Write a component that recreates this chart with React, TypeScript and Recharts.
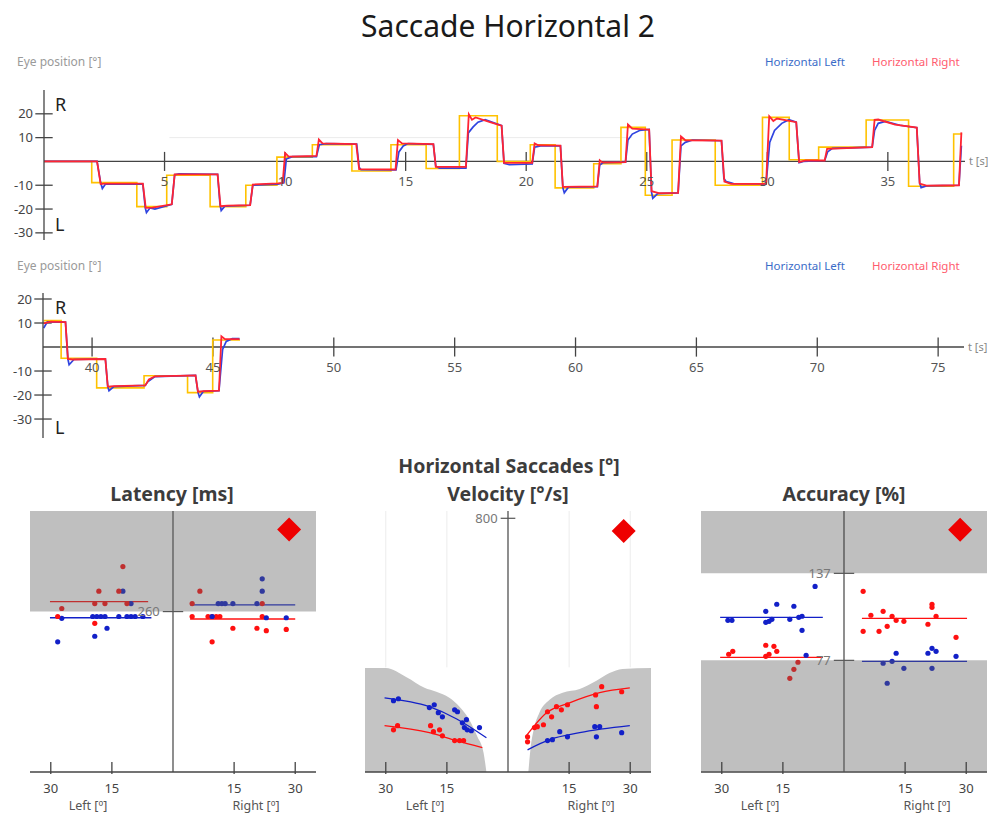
import React from 'react';
import { ComposedChart, Line, XAxis, YAxis, ReferenceLine, ReferenceArea, Scatter, Area } from 'recharts';

type P = [number, number];
const pts = (a: P[]) => a.map(([x, y]) => ({ x, y }));

// ---------- Eye position traces (t [s], position [°]) ----------
const targetTop: P[] = [[0,0],[1.98,-8.9],[3.85,-19],[5.09,-5.8],[6.89,-19],[8.37,-10],[9.66,1.8],[11.13,7],[12.77,-4],[14.39,7],[15.85,-3],[17.23,19.2],[18.8,0],[20.17,7],[21.2,-11.1],[22.8,-1],[23.93,14.3],[24.94,-14.2],[26.05,9],[27.84,-10],[29.8,18.5],[30.91,0.7],[32.13,6],[34.1,17.4],[35.86,-10.4],[37.73,11.5],[38.08,11.5]];
const redTop: P[] = [[0,0],[2.2,0],[2.35,-9.5],[2.5,-9.3],[4.1,-9.3],[4.22,-19.5],[4.5,-19.4],[5.3,-18],[5.42,-5.4],[7.2,-5.4],[7.32,-18.8],[7.6,-18.6],[8.55,-18.4],[8.66,-9.7],[9.7,-9.2],[9.9,-9],[10.0,3.5],[10.15,2],[11.3,2.3],[11.4,9.2],[11.55,7.6],[12.95,7.3],[13.07,-3.2],[14.58,-3.4],[14.68,9],[14.85,7.6],[16.15,7.3],[16.25,-2.3],[17.5,-2.3],[17.62,19.8],[17.75,17.5],[17.9,18.5],[18.5,16.5],[18.98,15],[19.08,-0.6],[20.25,-0.6],[20.35,7.6],[20.5,6.8],[21.42,6.6],[21.52,-10.7],[22.95,-10.5],[23.05,0.5],[23.15,-0.4],[24.12,-0.3],[24.22,15.5],[24.4,13.8],[25.1,13.4],[25.2,-12.5],[25.5,-13.3],[26.3,-13.2],[26.42,10.5],[26.6,8.9],[28.1,8.7],[28.22,-8.5],[28.5,-9.4],[29.95,-9.4],[30.08,19],[30.25,17],[30.4,18],[31.2,16.5],[31.32,-0.3],[31.6,0.4],[32.38,0.4],[32.48,5.3],[34.35,6],[34.45,17.5],[34.6,17.6],[35.3,15.5],[36.2,14.2],[36.32,-9.3],[36.6,-10.2],[37.95,-10],[38.05,12.2]];
const blueTop: P[] = [[0,0],[2.2,0],[2.35,-9],[2.42,-11.4],[2.55,-9.5],[4.1,-9.5],[4.2,-19.5],[4.25,-21.5],[4.4,-19.5],[4.6,-20],[5.3,-18],[5.42,-5.6],[5.6,-5.2],[7.2,-5.4],[7.3,-18],[7.35,-20.6],[7.5,-18.8],[8.55,-18.4],[8.66,-10],[9.7,-9.5],[9.95,-9],[10.05,1],[10.3,2],[11.3,2],[11.42,7],[11.7,7.5],[12.97,7.3],[13.07,-2.5],[13.15,-3.5],[14.6,-3.6],[14.72,4],[14.9,6.5],[15.1,7.5],[16.15,7.2],[16.25,-2],[16.4,-2.8],[17.5,-2.8],[17.6,12],[17.8,14.5],[18.0,16.5],[18.3,17.5],[18.98,15],[19.08,-0.8],[19.3,-1.4],[20.25,-1],[20.35,6],[20.6,6.5],[21.42,6.5],[21.52,-11],[21.58,-13.2],[21.75,-10.8],[22.95,-10.6],[23.05,-1.5],[23.2,-0.5],[24.12,-0.3],[24.22,9],[24.4,11.5],[24.7,13],[25.1,13.4],[25.2,-13],[25.25,-15.5],[25.45,-13.5],[26.3,-13.2],[26.42,6.5],[26.6,8],[26.9,9],[28.1,8.7],[28.2,-7.2],[28.3,-8.5],[28.6,-9.3],[29.95,-9.4],[30.1,8],[30.3,13],[30.6,16],[30.9,17.5],[31.2,16.5],[31.32,-0.5],[31.5,0],[32.38,0.4],[32.5,4],[32.7,5.5],[34.35,6],[34.45,13],[34.6,16],[34.9,16.8],[35.5,15.2],[36.2,14.2],[36.32,-9],[36.38,-11],[36.6,-10.3],[37.95,-10],[38.05,6.6]];

const targetBottom: P[] = [[38,11],[38.72,-4.7],[40.19,-17],[42.15,-12],[43.95,-19],[44.99,2.9],[46.12,2.9]];
const redBottom: P[] = [[38,9.8],[38.3,10.6],[38.9,10.4],[39.0,-5],[39.2,-5.2],[40.55,-5],[40.65,-16.5],[40.9,-16.3],[42.2,-16],[42.35,-13.5],[42.6,-12.2],[44.28,-11.8],[44.38,-18.6],[44.6,-18.4],[45.25,-18.2],[45.35,4.5],[45.5,3.3],[46.1,3.3]];
const blueBottom: P[] = [[38,7.9],[38.15,10.5],[38.9,10.4],[39.0,-5],[39.05,-7.4],[39.25,-5.2],[40.55,-5],[40.65,-16.5],[40.7,-18.2],[40.9,-16.5],[42.2,-16],[42.3,-14.5],[42.6,-12.3],[44.28,-11.8],[44.38,-18.8],[44.44,-20.8],[44.6,-18.5],[45.25,-18.2],[45.4,-1],[45.55,2.3],[45.8,3.5],[46.1,3.5]];

const topTimeTicks = [5, 10, 15, 20, 25, 30, 35];
const bottomTimeTicks = [40, 45, 50, 55, 60, 65, 70, 75];
const posTicks = [-30, -20, -10, 10, 20];

// ---------- Latency (deg, ms) ----------
const latLeftRed: P[] = [[-28.3,252],[-27.3,265],[-19.2,241],[-18.2,293],[-19.2,273],[-16.7,273],[-13.3,293],[-12.3,333],[-11.3,273]];
const latLeftBlue: P[] = [[-27.3,249],[-28.3,211],[-19.2,220],[-16.2,233],[-19.7,252],[-18.7,252],[-17.7,252],[-16.7,252],[-13.3,252],[-11.3,252],[-10.3,252],[-9.3,252],[-7.4,252],[-10.3,273],[-12.3,293]];
const latRightRed: P[] = [[4.7,273],[6.6,293],[4.7,252],[8.6,252],[9.6,252],[10.6,252],[11.5,252],[9.6,211],[14.7,233],[20.6,233],[22.9,229],[27.8,231],[21.9,252],[21.9,273]];
const latRightBlue: P[] = [[9.6,252],[11.1,273],[12.0,273],[12.8,273],[14.7,273],[20.6,273],[21.9,313],[21.9,293],[22.9,250],[27.8,250]];
const latLeftRedMean: P[] = [[-30.2,276],[-6.1,276]];
const latLeftBlueMean: P[] = [[-30.2,250],[-5.3,250]];
const latRightRedMean: P[] = [[4.2,248],[30,248]];
const latRightBlueMean: P[] = [[4.2,271],[30,271]];
const latFlag: P[] = [[28.5,393]];

// ---------- Velocity (deg, °/s) ----------
const velNormLeft: P[] = [[-35.1,328],[-30,328],[-24.9,299],[-20.5,266],[-17.6,253],[-14.4,234],[-11.9,206],[-9.5,165],[-7.5,111],[-6.0,61],[-5.3,0]];
const velNormRight: P[] = [[5.0,0],[5.5,70],[6.3,133],[7.7,187],[10.2,228],[13.4,250],[17.6,262],[21.7,288],[24.9,312],[28.1,325],[35.1,328]];
const velLeftBlue: P[] = [[-28.1,225],[-26.9,231],[-19.3,203],[-18.1,212],[-17.1,187],[-16.1,174],[-13.1,196],[-12.4,190],[-11.2,155],[-10.2,165],[-10.7,140],[-10.0,133],[-9.0,130],[-7.0,140]];
const velLeftRed: P[] = [[-28.1,133],[-27.1,146],[-19.0,146],[-18.3,127],[-16.8,133],[-16.1,114],[-13.1,99],[-11.9,99],[-10.9,99]];
const velRightRed: P[] = [[4.8,111],[4.8,95],[6.5,140],[7.2,143],[8.7,149],[9.7,190],[10.7,174],[11.9,206],[13.1,196],[14.6,212],[21.5,243],[21.7,206],[23.0,269],[27.9,253]];
const velRightBlue: P[] = [[9.7,99],[10.9,102],[12.7,127],[14.6,111],[21.3,143],[22.5,143],[21.7,111],[27.9,124]];
const velLeftBlueFit: P[] = [[-30.3,234],[-19.3,206],[-12.7,168],[-5.3,108]];
const velLeftRedFit: P[] = [[-30.3,146],[-19.3,124],[-12.7,99],[-6.3,77]];
const velRightRedFit: P[] = [[4.3,111],[9.5,187],[15.1,218],[22.5,250],[29.9,265]];
const velRightBlueFit: P[] = [[4.8,70],[10.2,102],[17.6,124],[29.9,146]];
const velFlag: P[] = [[28.4,760]];

// ---------- Accuracy (deg, %) ----------
const accLeftBlue: P[] = [[-28.5,104.6],[-27.5,104.6],[-19.2,110.8],[-16.5,115.7],[-19.2,103.2],[-18.4,103.9],[-17.7,105.3],[-12.3,114.3],[-13.3,105.3],[-11.1,106.7],[-10.3,107.4],[-10.3,97.7],[-9.3,80.5],[-7.1,128]];
const accLeftRed: P[] = [[-28.3,81.2],[-27.3,83.2],[-19.2,87.4],[-19.2,79.8],[-18.4,81.2],[-17.2,86.7],[-16.5,83.2],[-11.3,75.7],[-12.3,70.8],[-13.3,64.6]];
const accRightRed: P[] = [[4.7,124.6],[6.6,108.1],[9.6,110.8],[11.8,107.4],[12.8,104.6],[14.7,103.9],[4.7,97.0],[8.6,97.0],[10.6,100.5],[21.6,115.7],[21.6,113.6],[22.6,107.4],[20.6,101.9],[27.5,92.9]];
const accRightBlue: P[] = [[9.6,75],[11.8,76.3],[12.8,81.9],[14.7,71.5],[10.6,61.2],[20.6,81.9],[21.6,85.3],[22.6,83.2],[21.6,71.5],[27.5,79.8]];
const accLeftBlueMean: P[] = [[-30.4,106.7],[-5.2,106.7]];
const accLeftRedMean: P[] = [[-30.4,79.1],[-5.2,79.1]];
const accRightRedMean: P[] = [[4.4,106],[30.2,106]];
const accRightBlueMean: P[] = [[4.4,76.3],[30.2,76.3]];
const accFlag: P[] = [[28.5,167]];

const degTicks = [-30, -15, 15, 30];

const FONT = '"Noto Sans", "Open Sans", "DejaVu Sans", sans-serif';
const TRACE_BLUE = '#2f44e0';
const TRACE_RED = '#ff2433';
const TARGET = '#ffc200';
const DOT_RED = '#ff1010';
const DOT_BLUE = '#1220c8';
const AXIS = '#444';

const Txt = ({ x, y, size, color, bold, anchor = 'start', children }: any) => (
  <div
    style={{
      position: 'absolute', left: x, top: y, fontSize: size, color,
      fontWeight: bold ? 700 : 400, lineHeight: 1, whiteSpace: 'nowrap',
      fontFamily: FONT, zIndex: 5,
      transform: `translate(${anchor === 'middle' ? '-50%' : anchor === 'end' ? '-100%' : '0'}, -50%)`,
    }}
  >
    {children}
  </div>
);

function Trace({ left, top, plotH, xDomain, yDomain, xTicks, target, blue, red, faint }: any) {
  return (
    <div style={{ position: 'absolute', left, top }}>
      <ComposedChart width={982} height={plotH + 10} margin={{ top: 5, right: 31, bottom: 5, left: 0 }}>
        <XAxis type="number" dataKey="x" domain={xDomain} hide allowDataOverflow />
        <YAxis
          type="number" dataKey="y" domain={yDomain} ticks={posTicks} interval={0} width={30}
          tickLine={false} tickSize={6} tickMargin={5}
          axisLine={{ stroke: AXIS, strokeWidth: 1.3 }}
          tick={{ fill: '#444', fontSize: 13, fontFamily: FONT }} allowDataOverflow
        />
        {faint && (
          <ReferenceLine segment={[{ x: faint[0], y: 10 }, { x: faint[1], y: 10 }]} stroke="#ebebeb" />
        )}
        <ReferenceLine y={0} stroke={AXIS} strokeWidth={1.3}
          label={{ value: 't [s]', position: 'right', offset: 4, fill: '#888', fontSize: 11, fontFamily: FONT }} />
        {xTicks.map((t: number) => (
          <ReferenceLine key={'xt' + t} segment={[{ x: t, y: -4 }, { x: t, y: 4 }]} stroke={AXIS} strokeWidth={1.3}
            label={{ value: String(t), position: 'bottom', offset: 6, fill: '#555', fontSize: 13, fontFamily: FONT }} />
        ))}
        {posTicks.map((v) => (
          <ReferenceLine key={'yt' + v} ifOverflow="visible"
            segment={[{ x: xDomain[0] - 0.36, y: v }, { x: xDomain[0] + 0.36, y: v }]} stroke={AXIS} strokeWidth={1.3} />
        ))}
        <Line data={pts(target)} dataKey="y" type="stepAfter" stroke={TARGET} strokeWidth={1.6} dot={false} isAnimationActive={false} />
        <Line data={pts(blue)} dataKey="y" type="linear" stroke={TRACE_BLUE} strokeWidth={1.7} dot={false} isAnimationActive={false} />
        <Line data={pts(red)} dataKey="y" type="linear" stroke={TRACE_RED} strokeWidth={1.8} dot={false} isAnimationActive={false} />
      </ComposedChart>
    </div>
  );
}

const PanelTick = (props: any) => {
  const { x, y, payload } = props;
  return (
    <g>
      <line x1={x} x2={x} y1={y - 22} y2={y - 10} stroke={AXIS} strokeWidth={1.3} />
      <text x={x} y={y} dy="0.71em" textAnchor="middle" fill="#444" fontSize={13} fontFamily={FONT}>
        {Math.abs(payload.value)}
      </text>
    </g>
  );
};

const dotShape = (color: string) => (p: any) => <circle cx={p.cx} cy={p.cy} r={2.6} fill={color} />;
const diamondShape = (p: any) => (
  <polygon points={`${p.cx},${p.cy - 12} ${p.cx + 12},${p.cy} ${p.cx},${p.cy + 12} ${p.cx - 12},${p.cy}`} fill="#ee0000" />
);

function Panel({ left, yDomain, children }: any) {
  return (
    <div style={{ position: 'absolute', left, top: 506 }}>
      <ComposedChart width={296} height={300} margin={{ top: 5, right: 5, bottom: 0, left: 5 }}>
        <XAxis type="number" dataKey="x" domain={[-35.1, 35.1]} ticks={degTicks} interval={0} height={34}
          tickSize={0} tickMargin={12} tickLine={false} axisLine={{ stroke: AXIS, strokeWidth: 1.3 }}
          tick={<PanelTick />} allowDataOverflow />
        <YAxis type="number" dataKey="y" domain={yDomain} hide allowDataOverflow />
        {children}
      </ComposedChart>
    </div>
  );
}

const sc = (data: P[], color: string, key: string) => (
  <Scatter key={key} data={pts(data)} dataKey="y" fill={color} shape={dotShape(color)} isAnimationActive={false} />
);
const ln = (data: P[], color: string, key: string, curved = false) => (
  <Line key={key} data={pts(data)} dataKey="y" type={curved ? 'monotone' : 'linear'} stroke={color}
    strokeWidth={1.3} dot={false} isAnimationActive={false} />
);
const flag = (data: P[]) => (
  <Scatter key="flag" data={pts(data)} dataKey="y" fill="#ee0000" shape={diamondShape} isAnimationActive={false}
    {...({ zIndex: 900 } as any)} />
);
const valueTick = (v: number, half: number, label: string) => (
  <ReferenceLine key={'vt' + v} segment={[{ x: -half, y: v }, { x: half, y: v }]} stroke="#555" strokeWidth={1.2}
    label={{ value: label, position: 'left', offset: 3, fill: '#777', fontSize: 13, fontFamily: FONT }} />
);

export default function App() {
  return (
    <div style={{ position: 'relative', width: 996, height: 821, margin: -8, background: '#fff', overflow: 'hidden', fontFamily: FONT }}>
      <Txt x={508} y={26} size={30} color="#1a1a1a" anchor="middle">Saccade Horizontal 2</Txt>

      {/* top trace */}
      <Txt x={17} y={62} size={12} color="#9a9a9a">Eye position [°]</Txt>
      <Txt x={765} y={62} size={11.5} color="#3a6cc8">Horizontal Left</Txt>
      <Txt x={872} y={62} size={11.5} color="#ff5b6e">Horizontal Right</Txt>
      <Trace left={14} top={85} plotH={150} xDomain={[0, 38.2]} yDomain={[-33, 30]} xTicks={topTimeTicks}
        target={targetTop} blue={blueTop} red={redTop} faint={[5.2, 24.4]} />
      <Txt x={55} y={104} size={18} color="#222">R</Txt>
      <Txt x={55} y={224} size={18} color="#222">L</Txt>

      {/* bottom trace */}
      <Txt x={17} y={266} size={12} color="#9a9a9a">Eye position [°]</Txt>
      <Txt x={765} y={266} size={11.5} color="#3a6cc8">Horizontal Left</Txt>
      <Txt x={872} y={266} size={11.5} color="#ff5b6e">Horizontal Right</Txt>
      <Trace left={13} top={288} plotH={145} xDomain={[37.97, 76.07]} yDomain={[-37.9, 22.5]} xTicks={bottomTimeTicks}
        target={targetBottom} blue={blueBottom} red={redBottom} />
      <Txt x={55} y={307} size={18} color="#222">R</Txt>
      <Txt x={55} y={427} size={18} color="#222">L</Txt>

      {/* saccade summary */}
      <Txt x={509} y={466} size={19.5} bold color="#3c3c3c" anchor="middle">Horizontal Saccades [°]</Txt>
      <Txt x={172} y={494} size={19.5} bold color="#3c3c3c" anchor="middle">Latency [ms]</Txt>
      <Txt x={508} y={494} size={19.5} bold color="#3c3c3c" anchor="middle">Velocity [°/s]</Txt>
      <Txt x={844} y={494} size={19.5} bold color="#3c3c3c" anchor="middle">Accuracy [%]</Txt>

      <Panel left={25} yDomain={[0, 423]}>
        {sc(latLeftBlue, DOT_BLUE, 'a')}
        {sc(latLeftRed, DOT_RED, 'b')}
        {sc(latRightRed, DOT_RED, 'c')}
        {sc(latRightBlue, DOT_BLUE, 'd')}
        {ln(latLeftRedMean, DOT_RED, 'e')}
        {ln(latLeftBlueMean, DOT_BLUE, 'f')}
        {ln(latRightRedMean, DOT_RED, 'g')}
        {ln(latRightBlueMean, DOT_BLUE, 'h')}
        <ReferenceArea key="shade" y1={260} y2={423} fill="#5e5e5e" fillOpacity={0.4} stroke="none" {...({ zIndex: 650 } as any)} />
        <ReferenceLine key="c0" x={0} stroke={AXIS} strokeWidth={1.2} />
        {valueTick(260, 2.5, '260')}
        {flag(latFlag)}
      </Panel>

      <Panel left={360} yDomain={[0, 823]}>
        {[-30, -15, 15, 30].map((g) => (
          <ReferenceLine key={'g' + g} segment={[{ x: g, y: 330 }, { x: g, y: 823 }]} stroke="#ececec" />
        ))}
        <Area key="nl" data={pts(velNormLeft)} dataKey="y" type="monotone" fill="#c4c4c4" fillOpacity={1} stroke="none" isAnimationActive={false} />
        <Area key="nr" data={pts(velNormRight)} dataKey="y" type="monotone" fill="#c4c4c4" fillOpacity={1} stroke="none" isAnimationActive={false} />
        {ln(velLeftBlueFit, DOT_BLUE, 'f1', true)}
        {ln(velLeftRedFit, DOT_RED, 'f2', true)}
        {ln(velRightRedFit, DOT_RED, 'f3', true)}
        {ln(velRightBlueFit, DOT_BLUE, 'f4', true)}
        {sc(velLeftBlue, DOT_BLUE, 'a')}
        {sc(velLeftRed, DOT_RED, 'b')}
        {sc(velRightRed, DOT_RED, 'c')}
        {sc(velRightBlue, DOT_BLUE, 'd')}
        <ReferenceLine key="c0" x={0} stroke={AXIS} strokeWidth={1.2} />
        {valueTick(800, 1.8, '800')}
        {flag(velFlag)}
      </Panel>

      <Panel left={696} yDomain={[0, 180]}>
        <ReferenceArea key="top" y1={137} y2={180} fill="#bfbfbf" fillOpacity={1} stroke="none" />
        {sc(accLeftBlue, DOT_BLUE, 'a')}
        {sc(accLeftRed, DOT_RED, 'b')}
        {sc(accRightRed, DOT_RED, 'c')}
        {sc(accRightBlue, DOT_BLUE, 'd')}
        {ln(accLeftBlueMean, DOT_BLUE, 'e')}
        {ln(accLeftRedMean, DOT_RED, 'f')}
        {ln(accRightRedMean, DOT_RED, 'g')}
        {ln(accRightBlueMean, DOT_BLUE, 'h')}
        <ReferenceArea key="low" y1={0} y2={77} fill="#5e5e5e" fillOpacity={0.4} stroke="none" {...({ zIndex: 650 } as any)} />
        <ReferenceLine key="c0" x={0} stroke={AXIS} strokeWidth={1.2} />
        {valueTick(137, 2.5, '137')}
        {valueTick(77, 2.5, '77')}
        {flag(accFlag)}
      </Panel>

      <Txt x={88} y={806} size={12.5} color="#555" anchor="middle">Left [º]</Txt>
      <Txt x={256} y={806} size={12.5} color="#555" anchor="middle">Right [º]</Txt>
      <Txt x={425} y={806} size={12.5} color="#555" anchor="middle">Left [º]</Txt>
      <Txt x={591} y={806} size={12.5} color="#555" anchor="middle">Right [º]</Txt>
      <Txt x={760} y={806} size={12.5} color="#555" anchor="middle">Left [º]</Txt>
      <Txt x={927} y={806} size={12.5} color="#555" anchor="middle">Right [º]</Txt>
    </div>
  );
}
